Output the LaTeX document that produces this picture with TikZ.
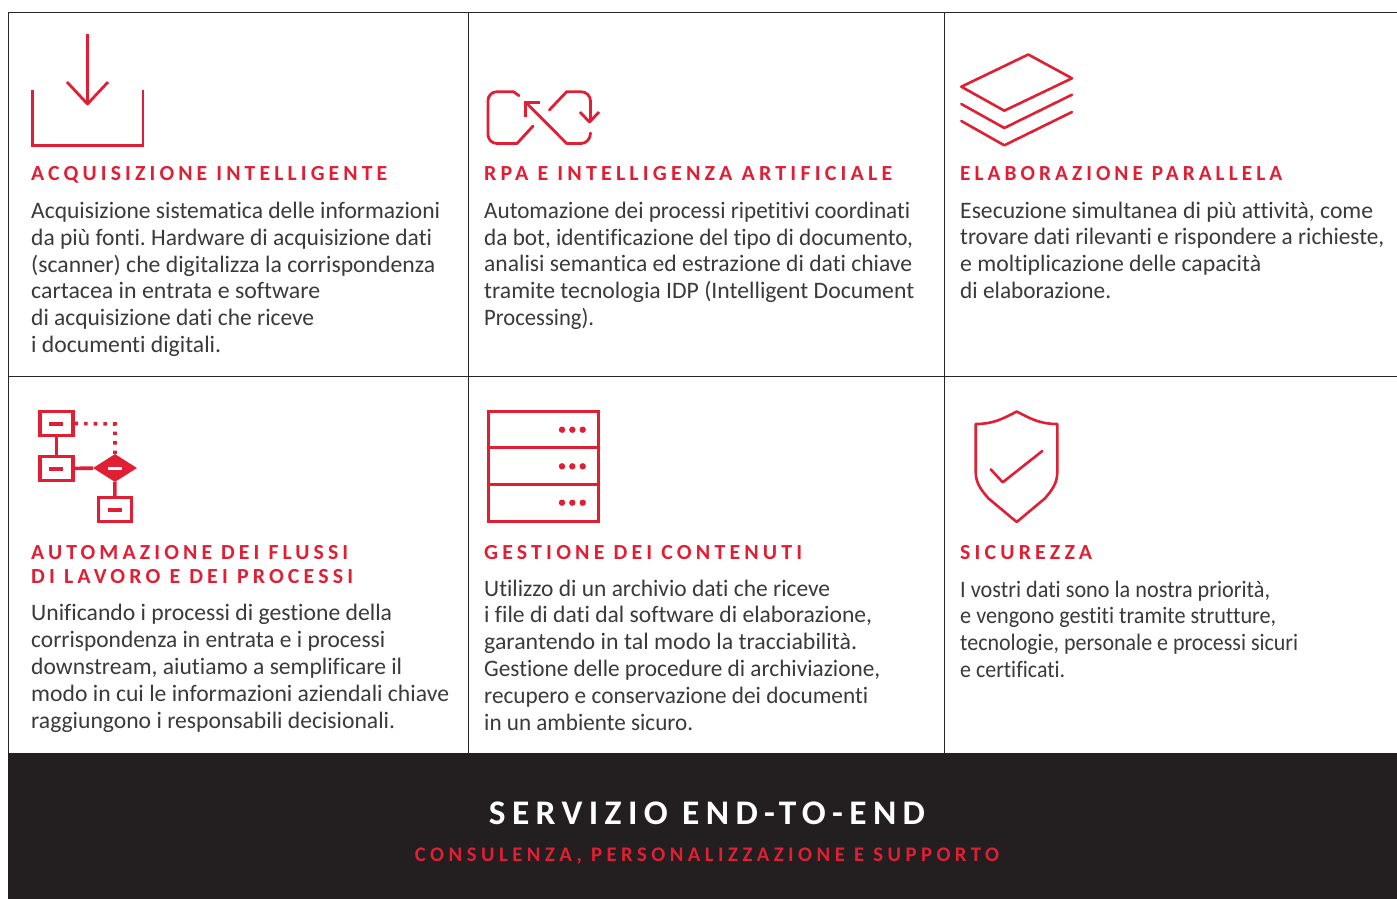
\documentclass[tikz,border=0pt]{standalone}
\usepackage{graphicx}
\usepackage{fontspec}
\setmainfont[Ligatures=NoCommon]{Carlito}
\newfontfamily\headfont[LetterSpace=19,Ligatures=NoCommon]{Carlito}
\newfontfamily\titlefont[LetterSpace=18,Ligatures=NoCommon]{Carlito}
\newfontfamily\subfont[LetterSpace=21.7,Ligatures=NoCommon]{Carlito}
\usetikzlibrary{shapes.geometric}
\definecolor{brandred}{HTML}{E01F35}
\definecolor{banddark}{HTML}{231F20}
\definecolor{textgrey}{HTML}{3A3A3C}
\frenchspacing
\newcommand{\fitw}[2]{\resizebox{#1pt}{\height}{#2}}
\tikzset{
  body/.style={anchor=base west,inner sep=0pt,align=left,text=textgrey,font=\fontsize{23.6}{26.8}\selectfont},
  heading/.style={anchor=base west,inner sep=0pt,align=left,text=brandred,font=\fontsize{21.5}{24}\selectfont\headfont\bfseries},
  rule/.style={draw=black!85,line width=1pt},
  icon/.style={draw=brandred,line width=2.6pt,line join=round},
  flowbox/.style={draw=brandred,line width=3.4pt,fill=white,minimum width=33pt,minimum height=24pt,inner sep=0pt,fill=white},
  flowdiamond/.style={diamond,aspect=1.55,fill=brandred,draw=none,minimum width=44pt,minimum height=28pt,inner sep=0pt},
  flowline/.style={draw=brandred,line width=3.6pt},
  bar/.style={fill=brandred,draw=none},
  serverdot/.style={circle,fill=brandred,minimum size=6.4pt,inner sep=0pt,draw=none}
}
\begin{document}
\begin{tikzpicture}[x=1pt,y=-1pt]
\useasboundingbox (0,0) rectangle (1397,899);
\fill[white] (0,0) rectangle (1397,899);
% grid
\draw[rule] (8.5,753) -- (8.5,12.5) -- (1397,12.5);
\draw[rule] (8.5,376.5) -- (1397,376.5);
\draw[rule] (468.5,12.5) -- (468.5,753);
\draw[rule] (944.5,12.5) -- (944.5,753);
\fill[banddark] (8,753) rectangle (1397,899);
% download icon
\draw[icon,line width=2.8pt] (87.5,34) -- (87.5,104);
\draw[icon,line width=2.8pt] (67,82) -- (87.5,104) -- (108,82);
\draw[icon,line width=2.8pt,line join=miter] (32.5,90) -- (32.5,145.5) -- (143,145.5) -- (143,90);
% RPA icon
\draw[icon,line width=2.8pt,line cap=round] (519,95.7) -- (513.5,91.7) -- (497,91.7) to[out=180,in=90] (488,100.5) -- (488,134.5) to[out=270,in=180] (497,143.5) -- (517,143.5) -- (533,126);
\draw[icon,line width=2.8pt,line cap=round] (526.5,103) -- (566.7,143.5) -- (581,143.5) to[out=0,in=270] (590.5,133);
\draw[icon,line width=2.8pt,line cap=round] (549.3,110) -- (566.7,91.7) -- (581,91.7) to[out=0,in=90] (590.5,101) -- (590.5,121);
\draw[icon,line width=2.8pt] (580,112) -- (589.5,122) -- (599,112);
\draw[icon,line width=2.8pt,line join=miter] (539.7,102.7) -- (525.3,102.7) -- (525.3,116.7);
% stack icon
\draw[icon,line cap=round] (1028.3,54.5) -- (1072,78.3) -- (1004.3,110.7) -- (961.3,86.7) -- cycle;
\draw[icon,line cap=round] (961.3,104) -- (1004.3,128) -- (1072,94.7);
\draw[icon,line cap=round] (961.3,121) -- (1004.3,145.3) -- (1072,112);
% flow icon
\node[flowbox] (fa) at (56.3,423.5) {};
\node[flowbox] (fb) at (56.3,468.5) {};
\node[flowbox] (fc) at (114.7,509.5) {};
\node[flowdiamond] (fd) at (115,468) {};
\draw[flowline] (fa) -- (fb);
\draw[flowline] (fb) -- (fd);
\draw[flowline] (fd) -- (fc);
\coordinate (fcorner) at (115,424);
\draw[draw=brandred,line width=3.6pt,dash pattern=on 3.6pt off 6pt] (fa.east) -- (fcorner) -- (fd.north);
\fill[bar] (49,422) rectangle (63,426);
\fill[bar] (49,467) rectangle (63,471);
\fill[bar] (108,508) rectangle (122,512);
\fill[white] (108,466.5) rectangle (122,470);
% server icon
\draw[icon,line width=3pt,line join=miter] (488.2,411.2) rectangle (598.8,521.8);
\draw[icon,line width=3pt] (488.2,447.7) -- (598.8,447.7);
\draw[icon,line width=3pt] (488.2,484.7) -- (598.8,484.7);
\foreach \yy in {429.7,466.3,502.7}{\foreach \xx in {562,572.3,582.7}{\node[serverdot] at (\xx,\yy) {};}}
% shield icon
\draw[icon] (1016.7,411.5) to[out=-28,in=180,looseness=1] (1057.3,424) -- (1057.3,471.7) to[out=270,in=50] (1045,498.3) -- (1016.7,522) -- (988.3,498.3) to[out=130,in=270] (975.7,471.7) -- (975.7,424) to[out=0,in=208] (1016.7,411.5) -- cycle;
\draw[icon,line cap=round] (990.7,469.3) -- (1002.7,482.3) -- (1042.3,451);
% headings
\node[heading] (h1) at (31,180) {\fitw{356}{ACQUISIZIONE INTELLIGENTE}};
\node[heading] (h2) at (484,180) {\fitw{408}{RPA E INTELLIGENZA ARTIFICIALE}};
\node[heading] (h3) at (960,180) {\fitw{322}{ELABORAZIONE PARALLELA}};
\node[heading] (h4) at (31,583) {\fitw{317}{AUTOMAZIONE DEI FLUSSI}\\\fitw{322}{DI LAVORO E DEI PROCESSI}};
\node[heading] (h5) at (484,559) {\fitw{318}{GESTIONE DEI CONTENUTI}};
\node[heading] (h6) at (960,559) {\fitw{132}{SICUREZZA}};
% bodies
\node[body] (b1) at (31,352.4) {\fitw{409}{Acquisizione sistematica delle informazioni}\\\fitw{401}{da più fonti. Hardware di acquisizione dati}\\\fitw{404}{(scanner) che digitalizza la corrispondenza}\\\fitw{289}{cartacea in entrata e software}\\\fitw{283}{di acquisizione dati che riceve}\\\fitw{190}{i documenti digitali.}};
\node[body] (b2) at (484,325.5) {\fitw{426}{Automazione dei processi ripetitivi coordinati}\\\fitw{429}{da bot, identificazione del tipo di documento,}\\\fitw{428}{analisi semantica ed estrazione di dati chiave}\\\fitw{430}{tramite tecnologia IDP (Intelligent Document}\\\fitw{110}{Processing).}};
\node[body] (b3) at (960,298.5) {\fitw{413}{Esecuzione simultanea di più attività, come}\\\fitw{424}{trovare dati rilevanti e rispondere a richieste,}\\\fitw{301}{e moltiplicazione delle capacità}\\\fitw{151}{di elaborazione.}};
\node[body] (b4) at (31,728) {\fitw{361}{Unificando i processi di gestione della}\\\fitw{354}{corrispondenza in entrata e i processi}\\\fitw{371}{downstream, aiutiamo a semplificare il}\\\fitw{418}{modo in cui le informazioni aziendali chiave}\\\fitw{364}{raggiungono i responsabili decisionali.}};
\node[body] (b5) at (484,730) {\fitw{346}{Utilizzo di un archivio dati che riceve}\\\fitw{388}{i file di dati dal software di elaborazione,}\\\fitw{373}{garantendo in tal modo la tracciabilità.}\\\fitw{396}{Gestione delle procedure di archiviazione,}\\\fitw{384}{recupero e conservazione dei documenti}\\\fitw{209}{in un ambiente sicuro.}};
\node[body] (b6) at (960,677.5) {\fitw{310}{I vostri dati sono la nostra priorità,}\\\fitw{316}{e vengono gestiti tramite strutture,}\\\fitw{338}{tecnologie, personale e processi sicuri}\\\fitw{105}{e certificati.}};
% band
\node[anchor=base,inner sep=0pt,text=white,font=\fontsize{34.5}{38}\selectfont\titlefont\bfseries] (t1) at (707,824) {\fitw{436}{SERVIZIO END-TO-END}};
\node[anchor=base,inner sep=0pt,text=brandred,font=\fontsize{20.7}{24}\selectfont\subfont\bfseries] (t2) at (707,861) {\fitw{584}{CONSULENZA, PERSONALIZZAZIONE E SUPPORTO}};
\end{tikzpicture}
\end{document}
